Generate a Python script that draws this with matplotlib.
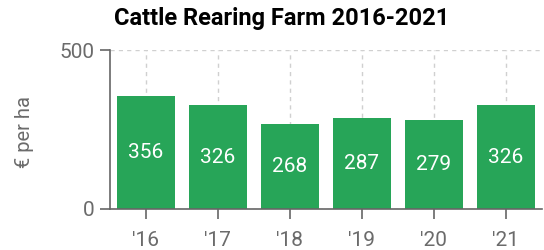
import matplotlib.pyplot as plt

years = ["'16", "'17", "'18", "'19", "'20", "'21"]
values = [356, 326, 268, 287, 279, 326]

plt.rcParams['font.family'] = ['Roboto', 'DejaVu Sans']

GREEN = '#27a558'
GREY = '#6b6b6b'

fig = plt.figure(figsize=(5.44, 2.5), dpi=100)
ax = fig.add_axes([0.202, 0.164, 0.794, 0.636])

x = range(len(years))
ax.bar(x, values, width=0.8, color=GREEN, zorder=2)

# value labels in the middle of each bar
for xi, v in zip(x, values):
    ax.text(xi, v / 2, str(v), ha='center', va='center', color='white', fontsize=15, zorder=3)

ax.set_xlim(-0.5, 5.5)
ax.set_ylim(0, 500)
ax.set_xticks(list(x))
ax.set_xticklabels(years)
ax.set_yticks([0, 500])

ax.grid(True, linestyle=(0, (3, 3)), color='#d0d0d0', linewidth=1, zorder=0)
for s in ['top', 'right']:
    ax.spines[s].set_visible(False)
for s in ['left', 'bottom']:
    ax.spines[s].set_color('#666666')
    ax.spines[s].set_linewidth(1.2)

ax.tick_params(axis='both', colors='#666666', labelcolor=GREY, labelsize=15, length=7, width=1.2)
ax.tick_params(axis='x', pad=9)
ax.tick_params(axis='y', pad=4)

fig.text(24 / 544, 1 - 132 / 250, '€ per ha', rotation=90, ha='center', va='center', color=GREY, fontsize=14.5)
fig.text(0.517, 0.925, 'Cattle Rearing Farm 2016-2021', ha='center', va='center', fontsize=17, fontweight='bold', color='black')

fig.savefig('out.png', dpi=100)
